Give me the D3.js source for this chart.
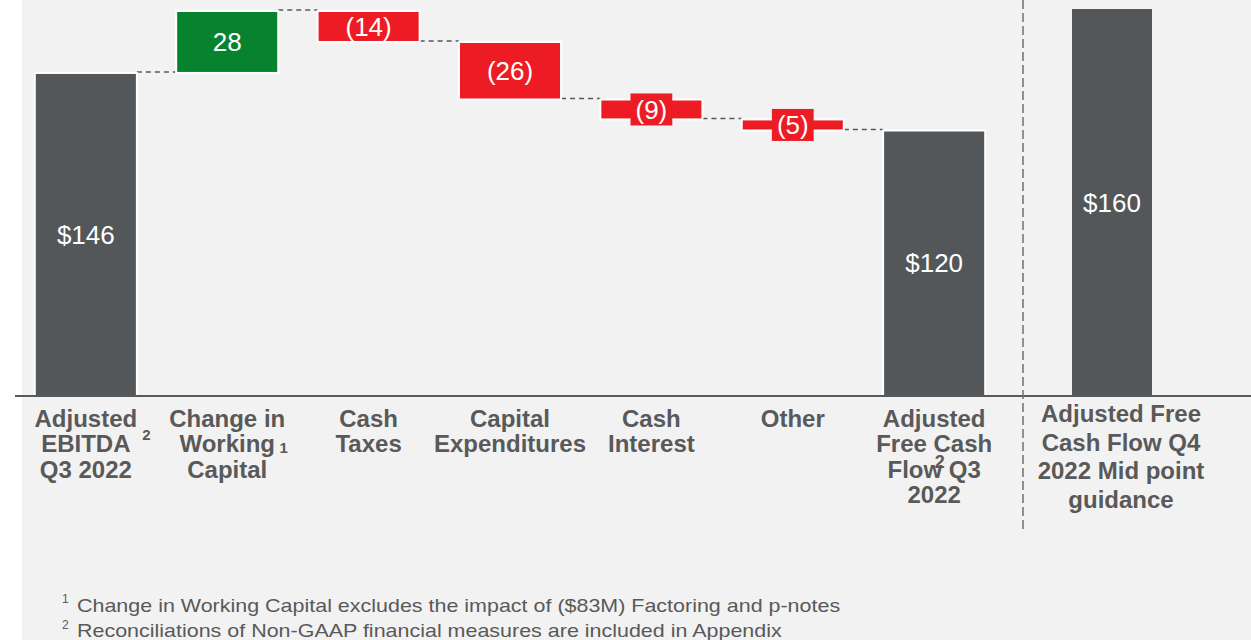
<!DOCTYPE html>
<html>
<head>
<meta charset="utf-8">
<script src="https://cdn.jsdelivr.net/npm/d3@7"></script>
<style>
  body { margin: 0; background: #fff; }
  svg text { font-family: "Liberation Sans", Arial, sans-serif; }
</style>
</head>
<body>
<div id="chart"></div>
<script>
// waterfall data (USD millions)
const categories = ["Adjusted EBITDA Q3 2022", "Change in Working Capital", "Cash Taxes",
    "Capital Expenditures", "Cash Interest", "Other", "Adjusted Free Cash Flow Q3 2022"];
const values = [146, 28, -14, -26, -9, -5, 120];
const barTypes = ["total", "increase", "decrease", "decrease", "decrease", "decrease", "total"];
const valueLabels = ["$146", "28", "(14)", "(26)", "(9)", "(5)", "$120"];
const categoryLines = [
    ["Adjusted", "EBITDA", "Q3 2022"],
    ["Change in", "Working", "Capital"],
    ["Cash", "Taxes"],
    ["Capital", "Expenditures"],
    ["Cash", "Interest"],
    ["Other"],
    ["Adjusted", "Free Cash", "Flow Q3", "2022"]
];
const categoryNotes = ["2", "1", "", "", "", "", "2"];

// guidance panel
const guidanceCategories = ["Adjusted Free Cash Flow Q4 2022 Mid point guidance"];
const guidanceValues = [160];
const guidanceLabels = ["$160"];
const guidanceLines = ["Adjusted Free", "Cash Flow Q4", "2022 Mid point", "guidance"];

const footnoteMarks = ["1", "2"];
const footnoteTexts = [
    "Change in Working Capital excludes the impact of ($83M) Factoring and p-notes",
    "Reconciliations of Non-GAAP financial measures are included in Appendix"
];

document.addEventListener('DOMContentLoaded', function() {
    const width = 1251, height = 640;
    const colors = { total: "#53575a", increase: "#07832f", decrease: "#ed1c24" };
    const textGray = "#595959";

    // running totals
    let running = 0;
    const steps = values.map((v, i) => {
        let start, end;
        if (barTypes[i] === "total") { start = 0; end = v; }
        else { start = running; end = running + v; }
        running = end;
        return { category: categories[i], start, end, type: barTypes[i],
                 label: valueLabels[i], lines: categoryLines[i], note: categoryNotes[i] };
    });

    const svg = d3.select('#chart').append('svg')
        .attr('width', width)
        .attr('height', height);

    svg.append('rect')
        .attr('x', 22).attr('y', 0)
        .attr('width', width - 22).attr('height', height)
        .attr('fill', '#f2f2f2');

    const xScale = d3.scaleBand()
        .domain(categories)
        .range([15, 1005])
        .paddingInner(0.278)
        .paddingOuter(0.14);

    const yScale = d3.scaleLinear()
        .domain([0, d3.max(steps, d => Math.max(d.start, d.end))])
        .range([396, 11]);

    const xGuide = d3.scaleBand()
        .domain(guidanceCategories)
        .range([1032, 1192])
        .padding(1 / 3);

    const yGuide = d3.scaleLinear()
        .domain([0, d3.max(guidanceValues)])
        .range([396, 9]);

    // connectors
    const connectors = steps.slice(0, -1).map((d, i) => ({ from: d, to: steps[i + 1] }));
    svg.selectAll('.connector')
        .data(connectors)
        .enter()
        .append('line')
        .attr('class', 'connector')
        .attr('x1', d => xScale(d.from.category) + xScale.bandwidth())
        .attr('x2', d => xScale(d.to.category))
        .attr('y1', d => yScale(d.from.end) - 1)
        .attr('y2', d => yScale(d.from.end) - 1)
        .attr('stroke', '#595959')
        .attr('stroke-width', 1.5)
        .attr('stroke-dasharray', '5,4');

    // bars
    svg.selectAll('.bar')
        .data(steps)
        .enter()
        .append('rect')
        .attr('class', 'bar')
        .attr('x', d => xScale(d.category))
        .attr('y', d => yScale(Math.max(d.start, d.end)))
        .attr('width', xScale.bandwidth())
        .attr('height', d => Math.abs(yScale(d.start) - yScale(d.end)))
        .attr('fill', d => colors[d.type])
        .attr('stroke', '#fff')
        .attr('stroke-width', 2);

    // value labels, small bars get a box behind the text
    const fontSize = 26;
    steps.forEach(d => {
        const cx = xScale(d.category) + xScale.bandwidth() / 2;
        const cy = (yScale(d.start) + yScale(d.end)) / 2;
        const barH = Math.abs(yScale(d.start) - yScale(d.end));
        const g = svg.append('g');
        const t = g.append('text')
            .attr('x', cx)
            .attr('y', cy + fontSize * 0.35)
            .attr('text-anchor', 'middle')
            .attr('font-size', fontSize)
            .attr('fill', '#fff')
            .text(d.label);
        if (barH < fontSize) {
            const w = t.node().getComputedTextLength() + 10;
            g.insert('rect', 'text')
                .attr('x', cx - w / 2)
                .attr('y', cy - 16)
                .attr('width', w)
                .attr('height', 32)
                .attr('fill', colors[d.type]);
        }
    });

    // category labels
    const labels = svg.selectAll('.cat-label')
        .data(steps)
        .enter()
        .append('text')
        .attr('class', 'cat-label')
        .attr('text-anchor', 'middle')
        .attr('font-size', 24)
        .attr('font-weight', 'bold')
        .attr('fill', textGray);
    labels.each(function(d) {
        const cx = xScale(d.category) + xScale.bandwidth() / 2;
        d3.select(this).selectAll('tspan')
            .data(d.lines)
            .enter()
            .append('tspan')
            .attr('x', cx)
            .attr('y', (l, i) => 427 + i * 25.3)
            .text(l => l);
    });

    // footnote markers on category labels
    const noteStyle = [
        { dx: 60.5, y: 440, size: 15 },
        { dx: 56.5, y: 453, size: 15 },
        null, null, null, null,
        { dx: 5.5, y: 467.5, size: 18 }
    ];
    steps.forEach((d, i) => {
        if (!d.note) return;
        const s = noteStyle[i];
        svg.append('text')
            .attr('x', xScale(d.category) + xScale.bandwidth() / 2 + s.dx)
            .attr('y', s.y)
            .attr('text-anchor', 'middle')
            .attr('font-size', s.size)
            .attr('font-weight', 'bold')
            .attr('fill', textGray)
            .text(d.note);
    });

    // guidance bar
    svg.selectAll('.guide-bar')
        .data(guidanceValues)
        .enter()
        .append('rect')
        .attr('class', 'guide-bar')
        .attr('x', (d, i) => xGuide(guidanceCategories[i]))
        .attr('y', d => yGuide(d))
        .attr('width', xGuide.bandwidth())
        .attr('height', d => yGuide(0) - yGuide(d))
        .attr('fill', colors.total);

    svg.selectAll('.guide-value')
        .data(guidanceValues)
        .enter()
        .append('text')
        .attr('x', (d, i) => xGuide(guidanceCategories[i]) + xGuide.bandwidth() / 2)
        .attr('y', d => (yGuide(0) + yGuide(d)) / 2 + fontSize * 0.35)
        .attr('text-anchor', 'middle')
        .attr('font-size', fontSize)
        .attr('fill', '#fff')
        .text((d, i) => guidanceLabels[i]);

    const guideCx = xGuide(guidanceCategories[0]) + xGuide.bandwidth() / 2 + 9;
    svg.append('text')
        .attr('text-anchor', 'middle')
        .attr('font-size', 24)
        .attr('font-weight', 'bold')
        .attr('fill', textGray)
        .selectAll('tspan')
        .data(guidanceLines)
        .enter()
        .append('tspan')
        .attr('x', guideCx)
        .attr('y', (l, i) => 422 + i * 28.7)
        .text(l => l);

    // baseline
    svg.append('line')
        .attr('x1', 15).attr('x2', width)
        .attr('y1', yScale(0)).attr('y2', yScale(0))
        .attr('stroke', '#595959')
        .attr('stroke-width', 2.2);

    // divider between actuals and guidance
    svg.append('line')
        .attr('x1', 1023).attr('x2', 1023)
        .attr('y1', 0).attr('y2', 530)
        .attr('stroke', '#6f6f6f')
        .attr('stroke-width', 1.5)
        .attr('stroke-dasharray', '9,4');

    // footnotes
    footnoteTexts.forEach((txt, i) => {
        svg.append('text')
            .attr('x', 62)
            .attr('y', 603 + i * 25.5)
            .attr('font-size', 12)
            .attr('fill', textGray)
            .text(footnoteMarks[i]);
        svg.append('text')
            .attr('transform', `translate(77,${611.5 + i * 25.5}) scale(1.13,1)`)
            .attr('font-size', 19)
            .attr('fill', textGray)
            .text(txt);
    });
});
</script>
</body>
</html>
